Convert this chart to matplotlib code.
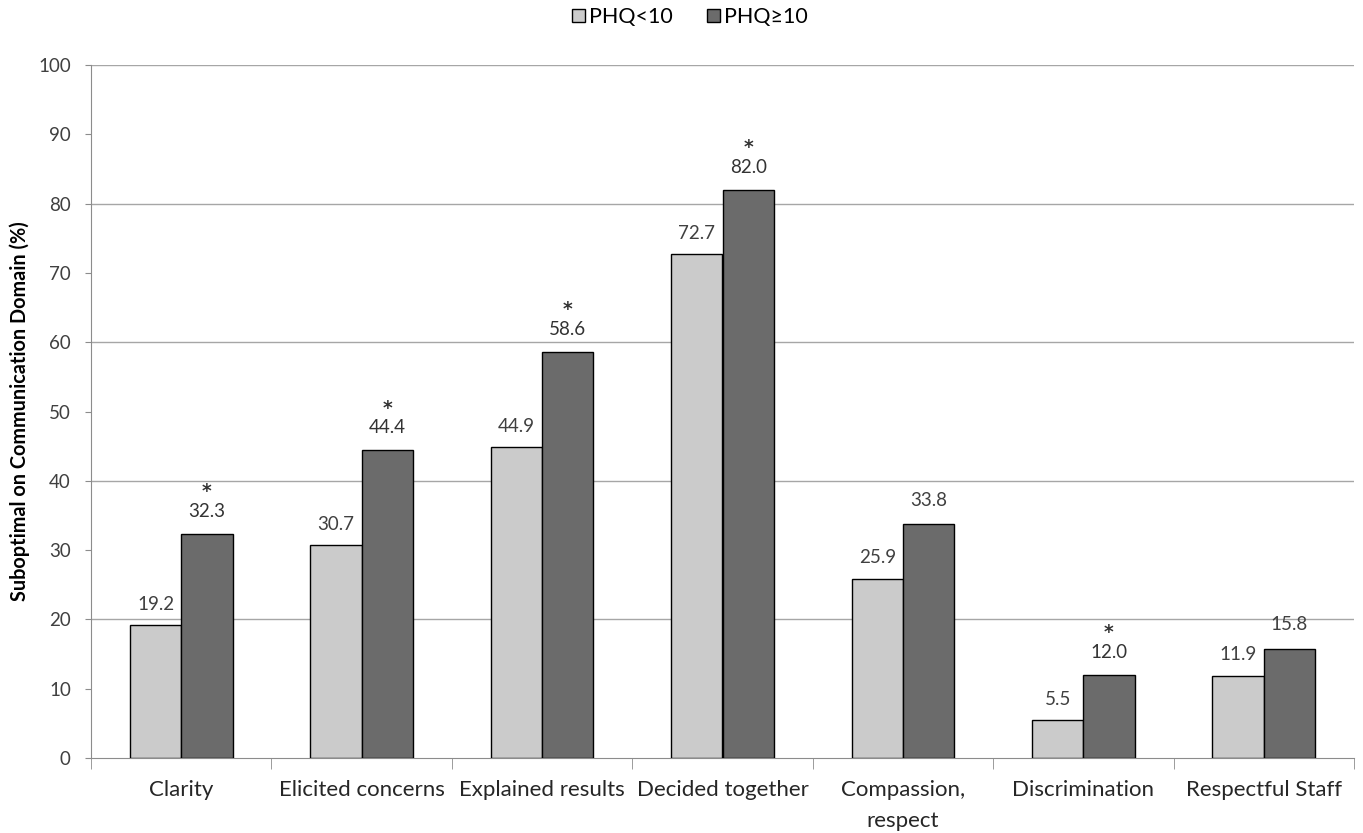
import numpy as np
import matplotlib.pyplot as plt

categories = ["Clarity", "Elicited concerns", "Explained results", "Decided together",
              "Compassion,\nrespect", "Discrimination", "Respectful Staff"]
phq_low = [19.2, 30.7, 44.9, 72.7, 25.9, 5.5, 11.9]
phq_high = [32.3, 44.4, 58.6, 82.0, 33.8, 12.0, 15.8]
significant = [True, True, True, True, False, True, False]

plt.rcParams['font.family'] = ['Lato', 'DejaVu Sans']

fig = plt.figure(figsize=(13.63, 8.33), dpi=100)
ax = fig.add_axes([91 / 1363, 1 - 758 / 833, (1354 - 91) / 1363, (758 - 65) / 833])

x = np.arange(len(categories))
w = 0.285
b1 = ax.bar(x - w / 2, phq_low, w, color="#cbcbcb", edgecolor="black", linewidth=1.0,
            label="PHQ<10", zorder=3)
b2 = ax.bar(x + w / 2, phq_high, w, color="#6b6b6b", edgecolor="black", linewidth=1.0,
            label="PHQ≥10", zorder=3)

# value labels above each bar; significant differences get a bold asterisk on top
for xi, v in zip(x - w / 2, phq_low):
    ax.annotate(f"{v:.1f}", (xi, v), xytext=(0, 15), textcoords="offset points",
                ha="center", va="center", fontsize=13.5, color="#404040")
for xi, v, s in zip(x + w / 2, phq_high, significant):
    if s:
        ax.annotate(r"$\mathbf{*}$" + "\n" + f"{v:.1f}", (xi, v), xytext=(0, 10),
                    textcoords="offset points", ha="center", va="bottom",
                    fontsize=13.5, color="#333333", linespacing=1.35)
    else:
        ax.annotate(f"{v:.1f}", (xi, v), xytext=(0, 17), textcoords="offset points",
                    ha="center", va="center", fontsize=13.5, color="#404040")

ax.set_xlim(-0.5, len(categories) - 0.5)
ax.set_ylim(0, 100)
ax.set_yticks(np.arange(0, 101, 10))
for yv in range(20, 101, 20):
    ax.axhline(yv, color="#a6a6a6", linewidth=1.0, zorder=1)

ax.set_xticks(x)
ax.set_xticklabels(categories, fontsize=16, color="#262626", linespacing=1.65)
ax.tick_params(axis="x", length=0, pad=16)
ax.set_xticks(np.arange(-0.5, len(categories), 1), minor=True)
ax.tick_params(axis="x", which="minor", length=8, color="#8c8c8c", direction="out")
ax.tick_params(axis="y", length=4.5, color="#8c8c8c", labelsize=13.5, labelcolor="#404040", pad=10)

for side in ["top", "right"]:
    ax.spines[side].set_visible(False)
for side in ["left", "bottom"]:
    ax.spines[side].set_color("#8c8c8c")

ax.set_ylabel("Suboptimal on Communication Domain (%)", fontsize=14.3, fontweight="bold",
              labelpad=6)

fig.legend(handles=[b1, b2], loc="center", bbox_to_anchor=(690 / 1363, 1 - 17 / 833), ncol=2,
           frameon=False, fontsize=15.5, handlelength=0.6, handleheight=0.6,
           handletextpad=0.2, columnspacing=1.6)

fig.savefig("out.png", dpi=100)
